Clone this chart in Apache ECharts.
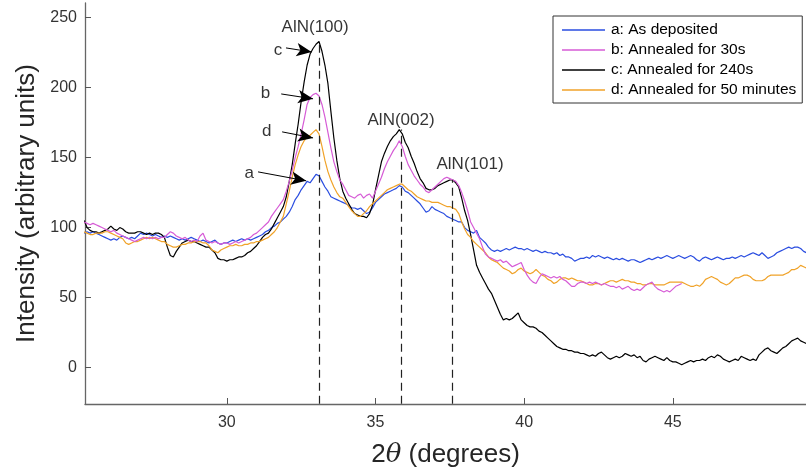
<!DOCTYPE html>
<html>
<head>
<meta charset="utf-8">
<script src="https://cdn.jsdelivr.net/npm/echarts@6/dist/echarts.min.js"></script>
<style>html,body{margin:0;padding:0;background:#fff}#c{width:806px;height:473px}</style>
</head>
<body>
<div id="c"></div>
<script>
// sampling grid of the scans (2θ, degrees)
const X_START = 25.2;
const X_STEP = 0.1;

const seriesNames = ['a: As deposited', 'b: Annealed for 30s', 'c: Annealed for 240s', 'd: Annealed for 50 minutes'];

const asDeposited = [
 96,97,96,97,96,95,94,93,
 92,91,92,91,93,94,93,92,93,92,
 94,96,95,96,95,94,95,94,93,94,
 93,94,93,92,91,92,91,92,93,92,
 91,90,91,90,89,90,91,89,88,89,
 89,90,91,90,91,92,91,92,91,92,
 93,94,95,97,98,100,101,103,104,106,
 108,111,115,120,123,127,130,133,132,135,
 138,137,133,129,126,122,121,120,119,118,
 117,116,114,114,113,114,112,110,111,114,
 118,120,122,124,125,126,127,128,130,129,
 126,125,123,121,119,117,114,111,112,115,
 113,112,111,110,108,107,106,105,104,104,
 100,98,97,96,98,93,91,89,86,84,
 83,84,83,84,85,84,85,86,85,85,
 84,85,84,83,84,83,82,83,82,82,
 81,82,80,81,79,79,78,76,77,78,
 78,79,78,80,79,80,79,78,79,78,
 77,78,77,78,77,76,77,77,76,75,
 76,77,78,77,78,79,78,79,80,79,
 78,79,80,79,78,79,80,79,77,76,
 78,79,78,77,78,79,78,77,78,78,
 79,78,79,80,79,80,81,82,81,80,
 82,80,78,79,80,82,83,84,85,86,
 85,86,86,85,83,82
];

const annealed30s = [
 104,103,102,103,102,101,100,99,
 98,97,98,96,95,94,93,92,91,90,
 91,92,93,92,93,92,93,92,93,93,
 95,97,96,94,93,92,93,91,90,91,
 90,94,96,91,90,89,90,89,88,89,
 89,88,89,90,89,90,91,92,93,95,
 96,98,100,102,104,108,111,114,117,120,
 126,133,141,150,158,167,177,188,193,195,
 196,194,188,179,168,157,147,140,134,131,
 127,123,122,121,123,124,121,123,124,121,
 126,131,136,142,147,151,155,158,162,158,
 151,145,141,137,134,131,129,126,125,127,
 129,131,133,135,136,135,134,133,130,125,
 119,112,104,100,96,92,86,81,79,78,
 77,76,77,75,76,74,72,73,74,75,
 70,66,63,61,60,64,67,66,65,64,
 65,64,65,63,62,60,58,58,60,61,
 61,60,61,60,61,60,59,60,59,58,
 58,57,58,56,57,58,56,55,56,55,
 57,59,60,61,58,56,55,54,55,54,
 56,58,59,60
];

const annealed240s = [
 105,100,98,97,97,96,97,98,
 99,101,99,98,100,99,97,96,96,96,
 97,97,96,95,96,95,96,96,95,93,
 86,80,79,83,86,89,90,91,90,90,
 89,88,87,86,86,84,82,78,77,77,
 76,77,77,78,79,79,80,82,83,85,
 87,90,93,95,96,99,103,107,111,115,
 122,133,145,160,174,190,204,216,224,228,
 231,233,226,216,203,183,164,148,135,126,
 121,117,113,110,109,108,108,107,110,116,
 127,137,147,153,158,162,165,167,170,167,
 161,157,151,146,140,135,132,128,127,127,
 128,130,131,132,133,134,134,132,129,121,
 112,105,95,84,73,68,64,60,56,53,
 48,43,38,34,35,34,35,37,39,34,
 32,30,29,29,28,26,25,23,21,19,
 17,15,14,13,13,12,12,11,11,10,
 10,9,8,9,8,10,11,9,7,6,
 7,8,7,8,10,9,8,9,7,8,
 5,4,6,7,8,7,6,5,7,5,
 4,4,3,2,3,4,5,4,5,5,
 6,5,7,8,7,9,8,6,5,4,
 5,6,5,8,7,6,5,6,5,9,
 11,13,14,12,11,10,12,14,15,17,
 19,20,21,19,18,17
];

const annealed50min = [
 97,96,95,95,96,96,96,97,
 97,96,95,94,93,92,89,88,89,90,
 90,91,92,93,92,93,92,91,90,90,
 88,87,86,86,87,88,88,89,89,90,
 90,90,89,89,87,84,83,82,84,85,
 86,87,87,88,87,87,88,88,89,89,
 90,90,91,92,93,95,97,100,104,108,
 117,126,136,145,152,158,162,165,166,168,
 170,167,158,148,140,134,129,125,122,121,
 118,115,112,110,108,108,110,112,115,117,
 119,121,123,125,127,128,129,130,131,131,
 129,127,126,124,122,121,120,119,119,118,
 118,118,117,116,115,115,114,113,110,104,
 99,95,93,90,88,86,84,82,79,77,
 76,75,73,71,70,69,67,68,70,71,
 69,68,67,68,70,68,66,65,63,62,
 60,61,63,64,64,63,64,63,62,62,
 61,60,59,59,60,60,59,60,61,62,
 62,61,62,63,62,62,61,61,60,60,
 59,59,60,60,59,59,59,59,60,61,
 61,61,61,61,60,59,58,58,59,58,
 60,63,64,65,64,63,61,60,59,60,
 62,64,64,65,66,66,65,63,62,62,
 62,63,65,66,66,66,66,66,67,68,
 70,70,71,73,72,71
];

const xTicks = [30, 35, 40, 45];
const yTicks = [0, 50, 100, 150, 200, 250];

// peak reference lines: [2θ, top intensity]
const peakLines = [[33.1, 232], [35.85, 170], [37.57, 134]];
// peak labels: [2θ, intensity, text]
const peakLabels = [[32.97, 243, 'AlN(100)'], [35.86, 177, 'AlN(002)'], [38.18, 145, 'AlN(101)']];
// curve letters: [x, y, text]
const letterLabels = [[31.72, 227, 'c'], [31.30, 196, 'b'], [31.34, 169, 'd'], [30.75, 139, 'a']];
// arrows: [x0, y0, x1, y1]
const arrows = [
  [31.99, 228.4, 32.85, 225.5],
  [31.83, 195.5, 32.90, 192.0],
  [31.86, 168.4, 32.90, 164.1],
  [31.05, 139.8, 32.67, 133.4]
];

const colors = ['#2a4de0', '#d65bd6', '#000000', '#f0a228'];
const FONT = '"Liberation Sans", Arial, Helvetica, sans-serif';

function toPairs(ys) {
  return ys.map((y, i) => [+(X_START + i * X_STEP).toFixed(2), y]);
}

const curves = [asDeposited, annealed30s, annealed240s, annealed50min];
const series = curves.map((ys, k) => ({
  name: seriesNames[k],
  type: 'line',
  data: toPairs(ys),
  symbol: 'none',
  lineStyle: { color: colors[k], width: 1.2 },
  itemStyle: { color: colors[k] },
  z: k === 1 ? 3 : 2,
  animation: false
}));

series.push({
  name: 'refs',
  type: 'line',
  data: [],
  symbol: 'none',
  animation: false,
  markLine: {
    silent: true,
    symbol: ['none', 'none'],
    label: { show: false },
    lineStyle: { color: '#222', width: 1.2, type: [8, 5] },
    data: peakLines.map(p => [{ coord: [p[0], -26] }, { coord: [p[0], p[1]] }])
  }
});

series.push({
  name: 'arrows',
  type: 'line',
  data: [],
  symbol: 'none',
  animation: false,
  z: 10,
  markLine: {
    silent: true,
    symbol: ['none', 'arrow'],
    symbolSize: [10, 15],
    label: { show: false },
    lineStyle: { color: '#000', width: 1, type: 'solid' },
    data: arrows.map(a => [{ coord: [a[0], a[1]] }, { coord: [a[2], a[3]] }])
  }
});

series.push({
  name: 'labels',
  type: 'scatter',
  symbolSize: 0,
  animation: false,
  data: peakLabels.concat(letterLabels),
  label: {
    show: true,
    position: 'inside',
    formatter: p => p.value[2],
    color: '#000',
    fontSize: 17,
    fontFamily: FONT,
    textBorderWidth: 0
  },
  z: 10
});

const chart = echarts.init(document.getElementById('c'), null, { renderer: 'canvas' });
chart.setOption({
  animation: false,
  backgroundColor: '#fff',
  grid: { left: 85, right: 0, top: 3, bottom: 69, containLabel: false },
  legend: {
    data: seriesNames,
    orient: 'vertical',
    left: 553,
    top: 16,
    padding: [4, 6, 3, 9],
    icon: 'rect',
    itemWidth: 43,
    itemHeight: 1.5,
    itemGap: 0,
    borderColor: '#333',
    borderWidth: 1,
    backgroundColor: '#fff',
    textStyle: { fontSize: 15.5, lineHeight: 20, color: '#000', fontFamily: FONT, padding: [0, 0, 0, 1] }
  },
  xAxis: {
    type: 'value',
    min: 25.23,
    max: 49.48,
    name: '2{it|θ} (degrees)',
    nameLocation: 'middle',
    nameGap: 38,
    nameTextStyle: {
      fontSize: 26, color: '#262626', fontFamily: FONT,
      rich: { it: { fontSize: 26, fontStyle: 'italic', color: '#262626', fontFamily: '"DejaVu Serif", serif' } }
    },
    axisLine: { show: true, onZero: false, lineStyle: { color: '#666', width: 1.3 } },
    axisTick: { show: true, inside: true, length: 6, customValues: xTicks, lineStyle: { color: '#555' } },
    axisLabel: { customValues: xTicks, fontSize: 16, color: '#333', fontFamily: FONT, margin: 11 },
    splitLine: { show: false }
  },
  yAxis: {
    type: 'value',
    min: -26.1,
    max: 260.5,
    name: 'Intensity (arbitrary units)',
    nameLocation: 'middle',
    nameGap: 44,
    nameTextStyle: { fontSize: 26, color: '#262626', fontFamily: FONT },
    axisLine: { show: true, onZero: false, lineStyle: { color: '#666', width: 1.3 } },
    axisTick: { show: true, inside: true, length: 6, customValues: yTicks, lineStyle: { color: '#555' } },
    axisLabel: { customValues: yTicks, fontSize: 16, color: '#333', fontFamily: FONT, margin: 8 },
    splitLine: { show: false }
  },
  series: series
});
</script>
</body>
</html>
